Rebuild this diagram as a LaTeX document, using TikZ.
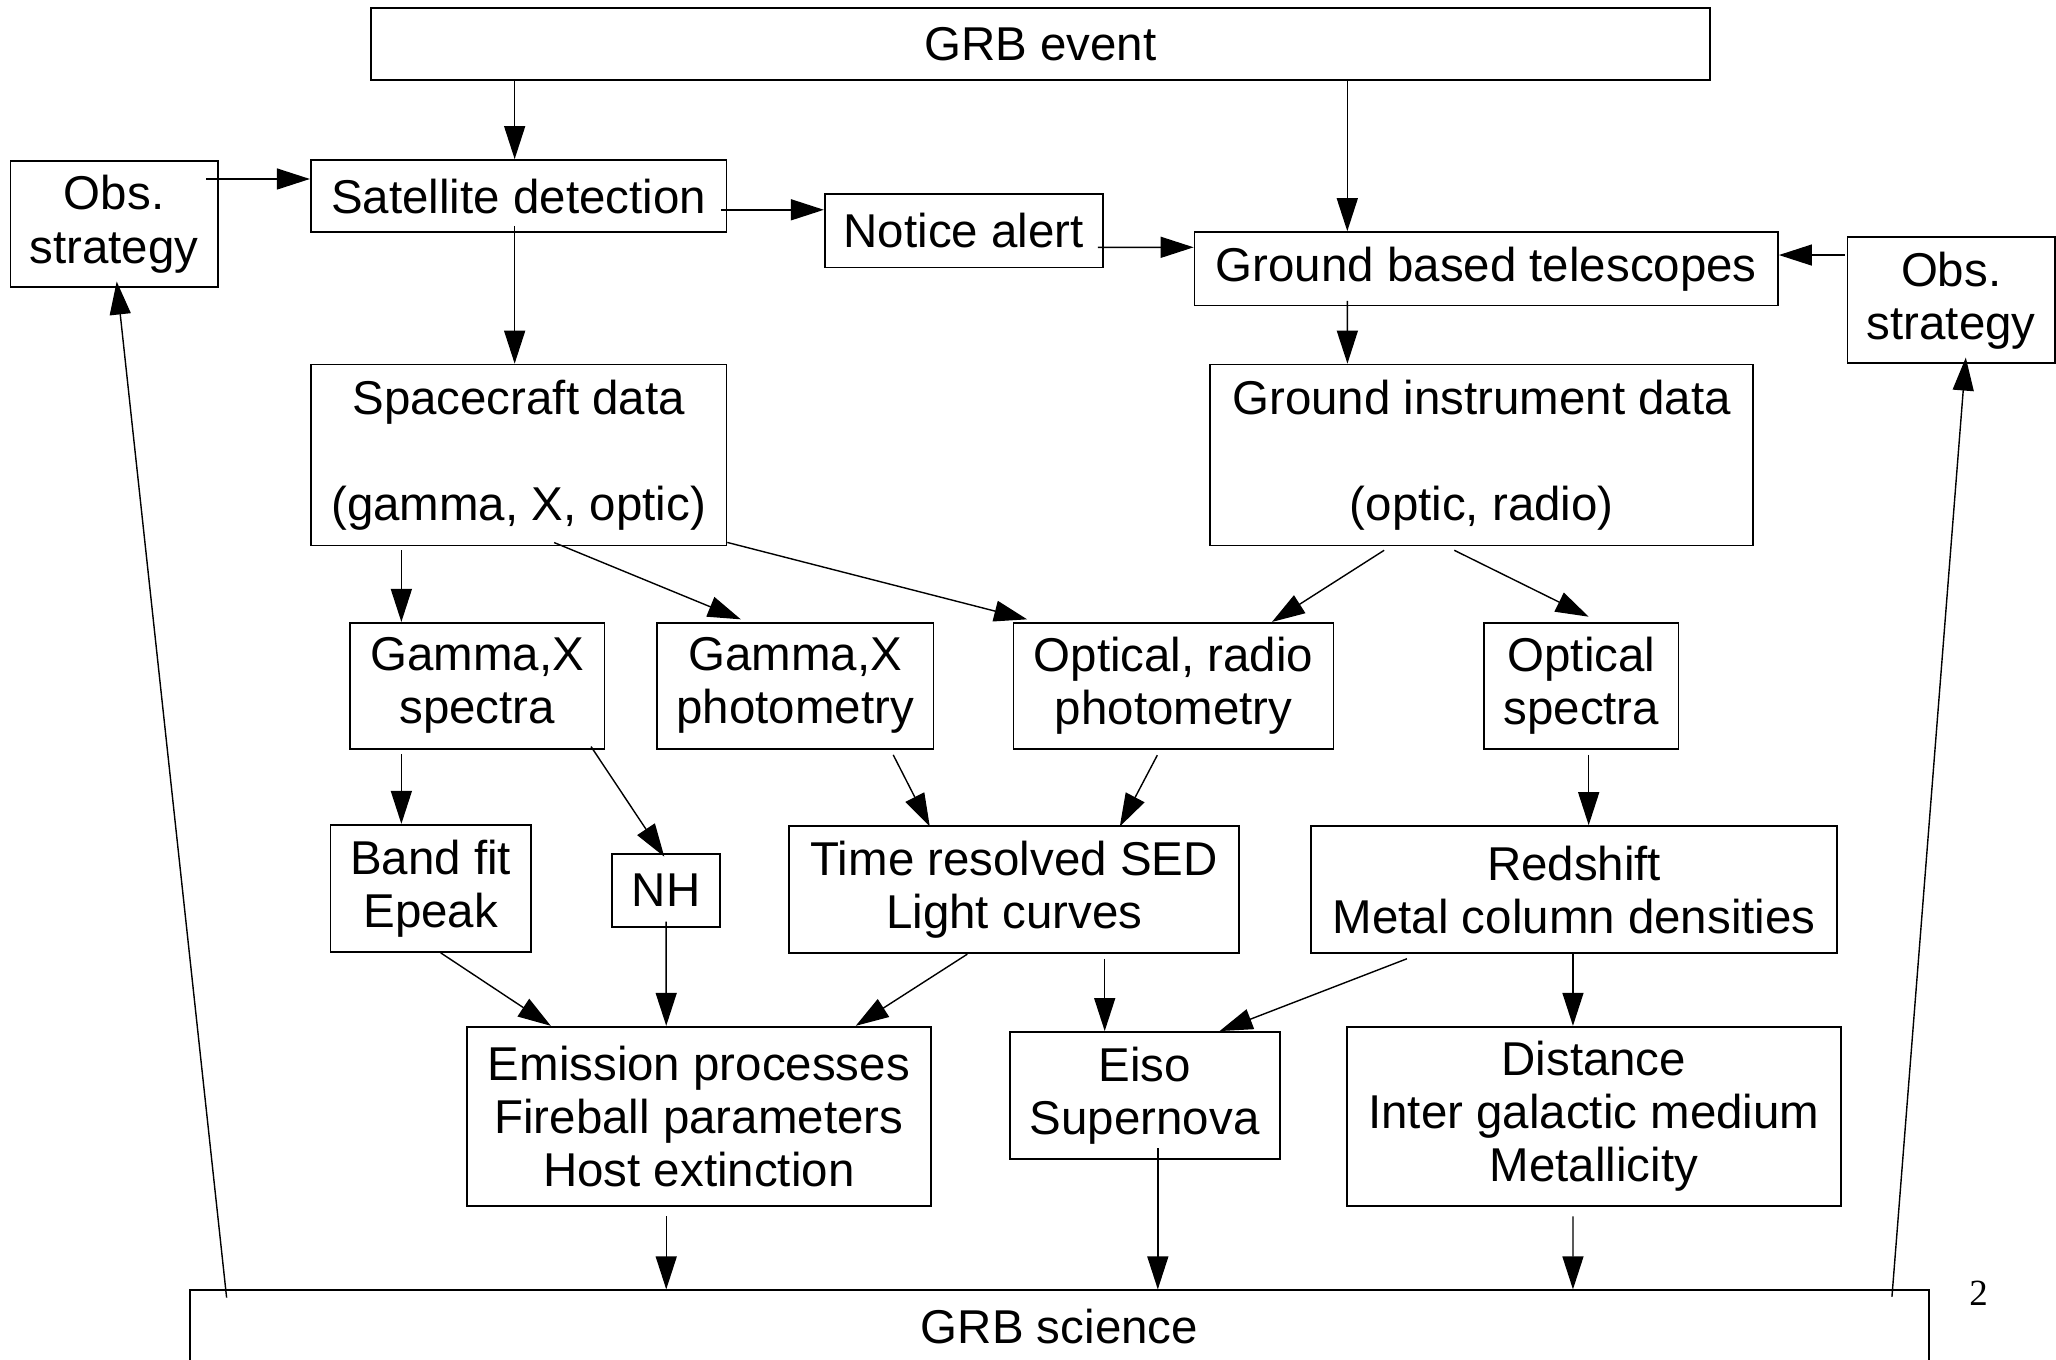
\documentclass[tikz,border=0pt]{standalone}
\usepackage{fontspec}
\setmainfont{Liberation Sans}
\newfontfamily\pagenumfont{Liberation Serif}
\usetikzlibrary{arrows.meta,calc}
\newcommand\gfont{\fontsize{13.5}{15.1}\selectfont}
\newcommand\mkbox[6]{\node[bx, minimum width={(#4-#2)*0.013112cm}, minimum height={(#5-#3)*0.013112cm}] (#1) at ({(#2+#4)/2},{(#3+#5)/2}) {#6};}
\tikzset{
  bx/.style={draw, line width=0.5pt, inner sep=0pt, align=center, font=\gfont},
  arr/.style={-{Triangle[length=0.33cm,width=0.21cm]}, line width=0.4pt},
}
\begin{document}
\begin{tikzpicture}[x=0.013112cm, y=-0.013112cm]
\useasboundingbox (0,0) rectangle (1568,1037);
\clip (0,0) rectangle (1568,1037);
\fill[white] (0,0) rectangle (1568,1037);

\mkbox{grb}{283}{6}{1304}{61}{GRB event}
\mkbox{obsl}{8}{123}{166}{219}{Obs.\\strategy}
\mkbox{sat}{237}{122}{554}{177}{Satellite detection}
\mkbox{notice}{629}{148}{841}{204}{Notice alert}
\mkbox{gbt}{911}{177}{1356}{233}{Ground based telescopes}
\mkbox{obsr}{1409}{181}{1567}{277}{Obs.\\strategy}
\mkbox{sc}{237}{278}{554}{416}{Spacecraft data\\\mbox{}\\(gamma, X, optic)}
\mkbox{gid}{923}{278}{1337}{416}{Ground instrument data\\\mbox{}\\(optic, radio)}
\mkbox{gxs}{267}{475}{461}{571}{Gamma,X\\spectra}
\mkbox{gxp}{501}{475}{712}{571}{Gamma,X\\photometry}
\mkbox{orp}{773}{475}{1017}{571}{Optical, radio\\photometry}
\mkbox{osp}{1132}{475}{1280}{571}{Optical\\spectra}
\mkbox{band}{252}{629}{405}{726}{Band fit\\Epeak}
\mkbox{nh}{467}{651}{549}{707}{NH}
\mkbox{trs}{602}{630}{945}{727}{Time resolved SED\\Light curves}
\mkbox{red}{1000}{630}{1401}{727}{Redshift\\Metal column densities}
\mkbox{emi}{356}{783}{710}{920}{Emission processes\\Fireball parameters\\Host extinction}
\mkbox{eiso}{770}{787}{976}{884}{Eiso\\Supernova}
\mkbox{dist}{1027}{783}{1404}{920}{Distance\\Inter galactic medium\\Metallicity}
\mkbox{sci}{145}{984}{1471}{1040}{GRB science}
\node[font=\pagenumfont\fontsize{10.5}{12}\selectfont, inner sep=0pt] (pg) at (1509,986) {2};

% top part
\draw[arr] ($(grb.south)+(-401,0)$) -- ($(sat.north)+(-3,0)$);
\draw[arr] ($(grb.south)+(234,0)$) -- ($(gbt.north)+(-106,0)$);
\draw[arr] ($(obsl.east)+(-9.5,-34.5)$) -- ($(sat.west)+(0,-13)$);
\draw[arr] ($(sat.east)+(-5,10.5)$) -- ($(notice.west)+(0,-16)$);
\draw[arr] ($(notice.east)+(-4.4,12.6)$) -- ($(gbt.west)+(0,-16.4)$);
\draw[arr] ($(obsr.west)+(-1.3,-34.5)$) -- ($(gbt.east)+(0,-10.5)$);
\draw[arr] ($(sat.south)+(-3,-5.4)$) -- ($(sc.north)+(-3,0)$);
\draw[arr] ($(gbt.south)+(-106,-4.2)$) -- ($(gid.north)+(-102.4,0)$);

% data to products
\draw[arr] ($(sc.south)+(-89.4,3)$) -- ($(gxs.north)+(-57.9,0)$);
\draw[arr] ($(sc.south)+(27.1,-2.9)$) -- ($(gxp.north)+(-41.5,-2)$);
\draw[arr] ($(sc.south east)+(0,-3)$) -- ($(orp.north west)+(11,-2)$);
\draw[arr] ($(gid.south)+(-74.4,3)$) -- ($(orp.north)+(75,0)$);
\draw[arr] ($(gid.south)+(-20.9,3)$) -- ($(osp.north)+(5.6,-4)$);

% products to analyses
\draw[arr] ($(gxs.south)+(-57.9,3.5)$) -- ($(band.north)+(-22.4,0)$);
\draw[arr] ($(gxs.south east)+(-10.9,-2.3)$) -- ($(nh.north)+(-1.4,3)$);
\draw[arr] ($(gxp.south)+(74.7,4)$) -- ($(trs.north)+(-64.4,1)$);
\draw[arr] ($(orp.south)+(-12.4,4.3)$) -- ($(trs.north)+(80.5,1)$);
\draw[arr] ($(osp.south)+(5.6,4)$) -- ($(red.north)+(11.1,0)$);

% analyses to science topics
\draw[arr] ($(band.south)+(7.6,0)$) -- ($(emi.north)+(-112.9,0)$);
\draw[arr] ($(nh.south)+(0,-4.8)$) -- ($(emi.north)+(-24.9,0)$);
\draw[arr] ($(trs.south)+(-35.8,0)$) -- ($(emi.north)+(119.6,0)$);
\draw[arr] ($(trs.south)+(69,3.5)$) -- ($(eiso.north)+(-30.5,0)$);
\draw[arr] ($(red.south)+(-127.5,3.5)$) -- ($(eiso.north)+(57.1,0)$);
\draw[arr] ($(red.south)+(-0.9,-1.5)$) -- ($(dist.north)+(-15.9,0)$);

% to GRB science
\draw[arr] ($(emi.south)+(-24.9,7)$) -- ($(sci.north)+(-299.9,0)$);
\draw[arr] ($(eiso.south)+(10,-9)$) -- ($(sci.north)+(75,0)$);
\draw[arr] ($(dist.south)+(-15.9,7)$) -- ($(sci.north)+(391.6,0)$);

% feedback to observing strategy
\draw[arr] ($(sci.north west)+(28.5,6.3)$) -- ($(obsl.south)+(2,-5)$);
\draw[arr] ($(sci.north east)+(-28.8,5.7)$) -- ($(obsr.south)+(11.2,-5)$);
\end{tikzpicture}
\end{document}
